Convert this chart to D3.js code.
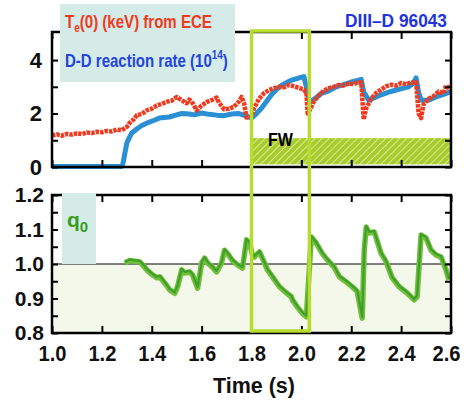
<!DOCTYPE html>
<html><head><meta charset="utf-8">
<script src="https://cdn.jsdelivr.net/npm/d3@7"></script>
<style>body{margin:0;background:#fff}svg{display:block}text{font-family:"Liberation Sans",Arial,sans-serif;font-weight:bold}</style>
</head><body><svg id="c" width="464" height="402"></svg>
<script>
// ---- data ----
const teTime=[1.00,1.02,1.04,1.06,1.08,1.10,1.12,1.14,1.16,1.18,1.20,1.22,1.24,1.26,1.28,1.30,1.31,1.33,1.34,1.36,1.38,1.40,1.42,1.44,1.46,1.48,1.50,1.52,1.54,1.55,1.56,1.58,1.60,1.62,1.64,1.66,1.67,1.69,1.71,1.73,1.75,1.76,1.77,1.78,1.80,1.81,1.83,1.85,1.87,1.89,1.91,1.93,1.95,1.97,1.99,2.01,2.02,2.025,2.035,2.05,2.07,2.09,2.11,2.13,2.15,2.17,2.19,2.21,2.23,2.24,2.245,2.25,2.26,2.28,2.30,2.32,2.34,2.36,2.38,2.40,2.42,2.44,2.46,2.465,2.47,2.48,2.49,2.51,2.53,2.55,2.57,2.58,2.60];
const teVal=[1.18,1.22,1.17,1.24,1.21,1.26,1.23,1.29,1.27,1.32,1.30,1.35,1.33,1.40,1.38,1.50,1.64,1.80,1.94,1.98,2.12,2.18,2.30,2.36,2.44,2.48,2.62,2.50,2.38,2.52,2.45,2.12,2.30,2.43,2.50,2.60,2.40,2.16,2.18,2.26,2.45,2.62,2.40,1.85,1.88,2.20,2.55,2.76,2.88,2.95,3.00,2.98,3.07,3.02,2.96,2.90,2.77,2.00,2.15,2.45,2.68,2.85,2.95,3.00,3.07,3.05,3.12,3.10,3.18,3.16,2.45,1.78,2.20,2.55,2.77,2.90,3.02,3.08,3.05,3.14,3.10,3.16,3.18,2.60,2.00,1.83,2.35,2.55,2.65,2.82,2.75,3.05,2.90];
const ddTime=[1.00,1.28,1.285,1.29,1.30,1.31,1.32,1.34,1.36,1.39,1.41,1.43,1.45,1.47,1.50,1.52,1.55,1.57,1.60,1.63,1.66,1.69,1.72,1.75,1.78,1.80,1.82,1.84,1.86,1.88,1.90,1.92,1.94,1.96,1.98,2.00,2.01,2.02,2.03,2.04,2.06,2.08,2.11,2.14,2.17,2.20,2.23,2.24,2.25,2.27,2.30,2.32,2.35,2.38,2.41,2.43,2.45,2.46,2.47,2.48,2.51,2.54,2.57,2.60];
const ddVal=[0.02,0.02,0.15,0.40,0.90,1.10,1.27,1.42,1.55,1.68,1.75,1.83,1.85,1.87,1.95,2.00,1.98,1.95,2.02,1.97,1.94,1.92,1.98,2.00,1.90,1.83,2.00,2.20,2.45,2.70,2.90,3.05,3.15,3.25,3.30,3.36,3.38,3.00,2.50,2.45,2.60,2.75,2.85,3.00,3.08,3.18,3.25,3.28,2.80,2.50,2.62,2.70,2.80,2.88,2.95,3.00,3.15,3.33,2.80,2.50,2.50,2.62,2.72,2.82];
const q0Time=[1.292,1.312,1.352,1.364,1.38,1.40,1.42,1.432,1.452,1.472,1.492,1.504,1.52,1.532,1.552,1.564,1.584,1.60,1.612,1.624,1.644,1.66,1.68,1.692,1.704,1.724,1.744,1.764,1.78,1.792,1.804,1.812,1.832,1.852,1.864,1.884,1.912,1.94,1.96,1.964,1.984,2.004,2.02,2.024,2.04,2.06,2.084,2.104,2.132,2.152,2.18,2.204,2.224,2.244,2.252,2.26,2.272,2.292,2.32,2.34,2.364,2.392,2.424,2.452,2.464,2.48,2.50,2.52,2.54,2.56,2.58,2.592];
const q0Val=[1.003,1.01,1.006,0.997,0.983,0.97,0.96,0.963,0.945,0.925,0.915,0.935,0.983,0.974,0.977,0.968,0.93,1.003,1.017,1.003,0.99,0.977,1.003,1.04,1.03,1.01,0.997,0.988,1.07,1.06,1.026,1.02,1.035,1.003,0.983,0.963,0.934,0.916,0.905,0.896,0.875,0.857,0.847,0.896,1.078,1.06,1.03,1.012,0.99,0.963,0.948,0.934,0.92,0.843,1.04,1.107,1.09,1.093,1.03,1.006,0.96,0.934,0.916,0.896,0.905,1.084,1.075,1.04,1.026,1.02,0.983,0.954];
const xTicks=[1.0,1.2,1.4,1.6,1.8,2.0,2.2,2.4,2.6];
const topYTicks=[0,1,2,3,4];
const botYTicks=[0.8,0.85,0.9,0.95,1.0,1.05,1.1,1.15,1.2];
const fwRange=[1.8,2.6], fwLevel=[0.1,1.08];
const boxRange=[1.8,2.032];

const svg=d3.select("#c");
const x=d3.scaleLinear().domain([1.0,2.6]).range([52,451]);
const yT=d3.scaleLinear().domain([0,5.05]).range([167,32]);
const yB=d3.scaleLinear().domain([0.8,1.2]).range([333,195]);

function fit(sel,x0,w){const n=sel.node();const cw=n.getBBox().width;const s=w/cw;sel.attr("transform",`translate(${x0},0) scale(${s},1) translate(${-x0},0)`);}

// defs
const defs=svg.append("defs");
const pat=defs.append("pattern").attr("id","hatch").attr("patternUnits","userSpaceOnUse").attr("width",5).attr("height",5).attr("patternTransform","rotate(45)");
pat.append("rect").attr("width",5).attr("height",5).attr("fill","#a8cc2c");
pat.append("line").attr("x1",0).attr("y1",0).attr("x2",0).attr("y2",5).attr("stroke","#e6f1b8").attr("stroke-width",1.6);

// bottom pale fill
svg.append("rect").attr("x",x(1.0)).attr("y",yB(1.0)).attr("width",x(2.6)-x(1.0)).attr("height",yB(0.8)-yB(1.0)).attr("fill","#f4f8ea");

// FW hatch
svg.append("rect").attr("x",x(fwRange[0])).attr("y",yT(fwLevel[1])).attr("width",x(fwRange[1])-x(fwRange[0])).attr("height",yT(fwLevel[0])-yT(fwLevel[1])).attr("fill","url(#hatch)");
const fw=svg.append("text").attr("x",268).attr("y",146).attr("font-size",19).attr("fill","#000").text("FW");
fit(fw,268,25);

// lines top
const lineT=(ts,vs)=>d3.line().x((d,i)=>x(ts[i])).y(d=>yT(d))(vs);
svg.append("path").attr("d",lineT(ddTime,ddVal)).attr("fill","none").attr("stroke","#2b8fd4").attr("stroke-width",5).attr("stroke-linejoin","round");
svg.append("path").attr("d",lineT(teTime,teVal)).attr("fill","none").attr("stroke","#f03a1e").attr("stroke-width",4.5).attr("stroke-dasharray","3.5 1").attr("stroke-linejoin","round");

// 1.0 line
svg.append("line").attr("x1",x(1.0)).attr("x2",x(2.6)).attr("y1",yB(1.0)).attr("y2",yB(1.0)).attr("stroke","#000").attr("stroke-width",1);

// q0 line
const lineB=d3.line().x((d,i)=>x(q0Time[i])).y(d=>yB(d));
svg.append("path").attr("d",lineB(q0Val)).attr("fill","none").attr("stroke","#72bf3a").attr("stroke-width",5.5).attr("stroke-linejoin","round");
svg.append("path").attr("d",lineB(q0Val)).attr("fill","none").attr("stroke","#3f9f2c").attr("stroke-width",2.2).attr("stroke-linejoin","round").attr("transform","translate(0,-1)");

// axes
function styleAxis(g){g.select(".domain").remove();g.selectAll("line").attr("stroke","#000").attr("stroke-width",2);g.selectAll("text").attr("font-family","'Liberation Sans',Arial,sans-serif").attr("font-weight","bold").attr("fill","#111");}
svg.append("g").attr("transform",`translate(0,${yT.range()[0]})`).call(d3.axisBottom(x).tickValues(xTicks).tickSizeInner(-7).tickSizeOuter(0).tickFormat("")).call(styleAxis);
svg.append("g").attr("transform",`translate(0,${yT.range()[1]})`).call(d3.axisTop(x).tickValues(xTicks).tickSizeInner(-7).tickSizeOuter(0).tickFormat("")).call(styleAxis);
svg.append("g").attr("transform",`translate(${x(1.0)},0)`).call(d3.axisLeft(yT).tickValues(topYTicks).tickSizeInner(-6).tickSizeOuter(0).tickPadding(10).tickFormat(d=>d%2===0?d:"")).call(styleAxis).selectAll("text").attr("font-size",22);
svg.append("g").attr("transform",`translate(${x(2.6)},0)`).call(d3.axisRight(yT).tickValues(topYTicks).tickSizeInner(-6).tickSizeOuter(0).tickFormat("")).call(styleAxis);
const xb=svg.append("g").attr("transform",`translate(0,${yB.range()[0]})`).call(d3.axisBottom(x).tickValues(xTicks).tickSizeInner(-7).tickSizeOuter(0).tickPadding(12).tickFormat(d3.format(".1f"))).call(styleAxis);
xb.selectAll("text").attr("font-size",22).attr("dx",d=>d===2.6?-5:0).attr("textLength",28).attr("lengthAdjust","spacingAndGlyphs");
svg.append("g").attr("transform",`translate(0,${yB.range()[1]})`).call(d3.axisTop(x).tickValues(xTicks).tickSizeInner(-7).tickSizeOuter(0).tickFormat("")).call(styleAxis);
svg.append("g").attr("transform",`translate(${x(1.0)},0)`).call(d3.axisLeft(yB).tickValues(botYTicks).tickSizeInner(-6).tickSizeOuter(0).tickPadding(8).tickFormat(d=>Math.round(d*100)%10===0?d3.format(".1f")(d):"")).call(styleAxis).selectAll("text").attr("font-size",21);
svg.append("g").attr("transform",`translate(${x(2.6)},0)`).call(d3.axisRight(yB).tickValues(botYTicks).tickSizeInner(-6).tickSizeOuter(0).tickFormat("")).call(styleAxis);

// frames
svg.append("rect").attr("x",x(1.0)).attr("y",yT.range()[1]).attr("width",x(2.6)-x(1.0)).attr("height",yT.range()[0]-yT.range()[1]).attr("fill","none").attr("stroke","#000").attr("stroke-width",2.5);
svg.append("rect").attr("x",x(1.0)).attr("y",yB.range()[1]).attr("width",x(2.6)-x(1.0)).attr("height",yB.range()[0]-yB.range()[1]).attr("fill","none").attr("stroke","#000").attr("stroke-width",2.5);

// legend boxes (drawn over frame, as in reference)
svg.append("rect").attr("x",60).attr("y",4).attr("width",175).attr("height",78).attr("fill","#d5ebe8");
svg.append("rect").attr("x",62).attr("y",193).attr("width",34).attr("height",yB(1.0)-193).attr("fill","#d5ebe8");

// highlight box
svg.append("rect").attr("x",x(boxRange[0])).attr("y",31).attr("width",x(boxRange[1])-x(boxRange[0])).attr("height",300).attr("fill","none").attr("stroke","#b5dc2e").attr("stroke-width",3.5);

// texts
const t1=svg.append("text").attr("x",65).attr("y",28).attr("font-size",18).attr("fill","#f03a1e");
t1.append("tspan").text("T");
t1.append("tspan").attr("font-size",12).attr("dy",4).text("e");
t1.append("tspan").attr("dy",-4).text("(0) (keV) from ECE");
fit(t1,65,147);
const t2=svg.append("text").attr("x",65).attr("y",67).attr("font-size",18).attr("fill","#2444e0");
t2.append("tspan").text("D-D reaction rate (10");
t2.append("tspan").attr("font-size",12).attr("dy",-8).text("14");
t2.append("tspan").attr("dy",8).text(")");
fit(t2,65,163);
const t3=svg.append("text").attr("x",447).attr("y",27).attr("text-anchor","end").attr("font-size",19).attr("fill","#2233dd").text("DIII–D 96043");
fit(t3,447,102);
const q=svg.append("text").attr("x",67).attr("y",227).attr("font-size",21).attr("fill","#3a9e22");
q.append("tspan").text("q");
q.append("tspan").attr("font-size",15).attr("dy",5).text("0");
const tl=svg.append("text").attr("x",213).attr("y",393).attr("font-size",22).attr("fill","#111").text("Time (s)");
fit(tl,213,82);
</script></body></html>
